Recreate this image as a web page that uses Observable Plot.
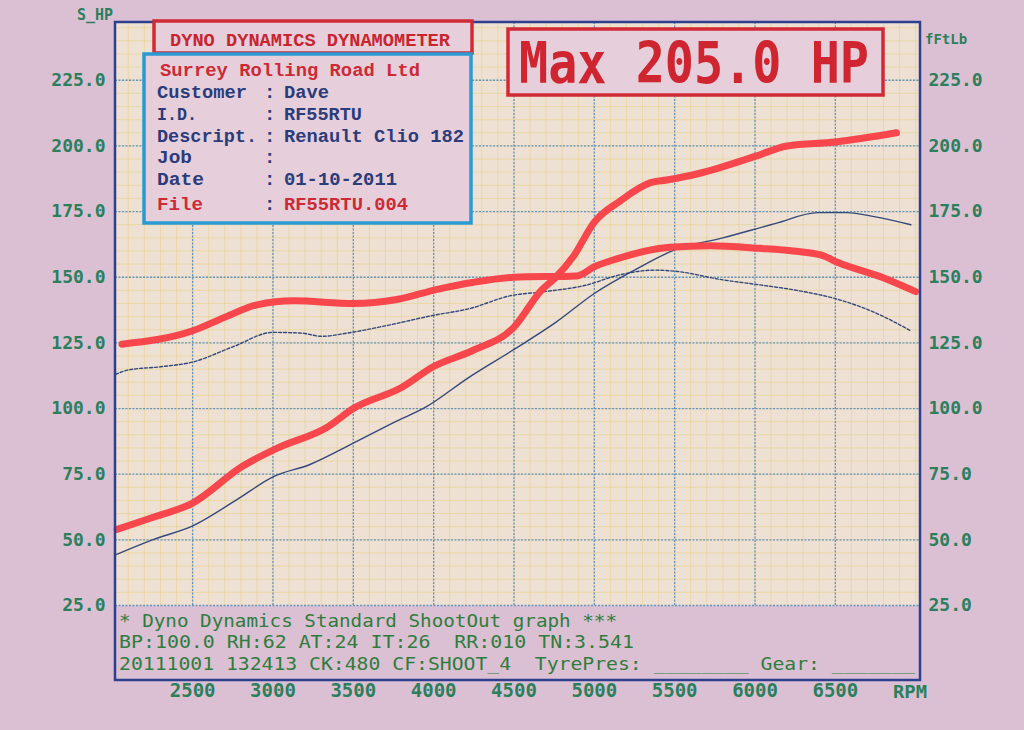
<!DOCTYPE html>
<html><head><meta charset="utf-8">
<script src="https://cdn.jsdelivr.net/npm/d3@7"></script>
<script src="https://cdn.jsdelivr.net/npm/@observablehq/plot@0.6"></script>
<style>
html,body{margin:0;padding:0;background:#dbc0d3;}
#chart{width:1024px;height:730px;overflow:hidden;}
</style></head><body><div id="chart"></div>
<script>
// ---- Data read from the dyno sheet ----
const rpmTicks = [2500, 3000, 3500, 4000, 4500, 5000, 5500, 6000, 6500];
const valueTicks = [25, 50, 75, 100, 125, 150, 175, 200, 225];

// Current run – power (S_HP), thick red
const powerRpm = [2030, 2250, 2500, 2810, 3030, 3340, 3500, 3800, 4000, 4240, 4500, 4670, 4760, 4870, 5000, 5160, 5350, 5450, 5650, 6000, 6200, 6500, 6880];
const powerHp  = [54, 58.5, 64, 78, 85, 93, 100, 108, 116, 122, 131, 145, 150, 158, 171, 179, 186, 187, 189.5, 196, 200, 201.5, 205];

// Current run – torque (fFtLb), thick red
const torqueRpm = [2060, 2500, 2710, 2900, 3130, 3500, 3770, 4030, 4240, 4500, 4890, 5000, 5140, 5470, 5720, 6030, 6240, 6410, 6520, 6790, 7000];
const torqueFt  = [124.5, 129.6, 135, 139.5, 141, 140, 141.5, 145.5, 148, 150, 150.5, 154, 157, 161.4, 162, 161, 160, 158.5, 155.5, 150, 144.5];

// Reference run – power, thin solid blue
const refPowerRpm = [2020, 2250, 2500, 2780, 3000, 3230, 3500, 3760, 3950, 4220, 4500, 4760, 5000, 5250, 5500, 5800, 6130, 6390, 6570, 6750, 6970];
const refPowerHp  = [44.3, 50, 55.3, 65.5, 74, 78.7, 86.8, 94.9, 100.5, 111.9, 122.5, 132.8, 143.8, 152.7, 160.4, 165, 170.5, 174.6, 174.6, 173, 170];

// Reference run – torque, thin dashed blue
const refTorqueRpm = [2020, 2100, 2300, 2500, 2750, 3000, 3180, 3300, 3460, 3700, 4000, 4220, 4480, 4690, 4950, 5150, 5370, 5500, 5800, 6040, 6260, 6520, 6740, 6970];
const refTorqueFt  = [113, 114.7, 115.9, 117.7, 123.5, 129, 128.7, 127.5, 128.7, 131.5, 135.5, 138, 143, 144.5, 147, 150.8, 152.7, 152.3, 149, 147, 145, 141.5, 136.7, 129.6];

const infoLabels = ["Customer", "I.D.", "Descript.", "Job", "Date", "File"];
const infoValues = ["Dave", "RF55RTU", "Renault Clio 182", "", "01-10-2011", "RF55RTU.004"];
const footerLines = [
  "* Dyno Dynamics Standard ShootOut graph ***",
  "BP:100.0 RH:62 AT:24 IT:26  RR:010 TN:3.541",
  "20111001 132413 CK:480 CF:SHOOT_4  TyrePres: ________ Gear: _______"
];

const toRows = (xs, ys) => xs.map((x, i) => ({rpm: x, v: ys[i]}));

const X0 = 2020, X1 = 7030, Y0 = 25, Y1 = 247;
const minorX = d3.range(2100, X1, 100);
const minorY = d3.range(30, Y1, 5);

const GREEN = "#2b7f5c";
const RED = "#f8474c";
const BLUE = "#34487a";

const plot = Plot.plot({
  width: 1024, height: 730,
  marginLeft: 115, marginRight: 104, marginTop: 22, marginBottom: 125,
  x: {domain: [X0, X1]},
  y: {domain: [Y0, Y1]},
  style: {background: "transparent", fontFamily: "DejaVu Sans Mono"},
  marks: [
    Plot.frame({fill: "#eee0d3", stroke: null}),
    Plot.gridX(minorX, {stroke: "#e5d27c", strokeOpacity: 0.5, strokeWidth: 1}),
    Plot.gridY(minorY, {stroke: "#e5d27c", strokeOpacity: 0.5, strokeWidth: 1}),
    Plot.gridX(rpmTicks, {stroke: "#5f93c4", strokeOpacity: 1, strokeWidth: 1.3, strokeDasharray: "2,1.5"}),
    Plot.gridY(valueTicks, {stroke: "#5f93c4", strokeOpacity: 1, strokeWidth: 1.3, strokeDasharray: "2,1.5"}),
    Plot.axisY(valueTicks, {anchor: "left", label: null, tickSize: 0, tickPadding: 10,
      tickFormat: d => d.toFixed(1), fontSize: 18, fontWeight: "bold", color: GREEN}),
    Plot.axisY(valueTicks, {anchor: "right", label: null, tickSize: 0, tickPadding: 8,
      tickFormat: d => d.toFixed(1), fontSize: 18, fontWeight: "bold", color: GREEN}),
    Plot.axisX(rpmTicks, {anchor: "bottom", label: null, tickSize: 0, tickPadding: 78,
      tickFormat: d => String(d), fontSize: 19, fontWeight: "bold", color: GREEN}),
    Plot.line(toRows(refTorqueRpm, refTorqueFt), {x: "rpm", y: "v", stroke: BLUE, strokeWidth: 1.4, strokeDasharray: "3,2", curve: "monotone-x"}),
    Plot.line(toRows(refPowerRpm, refPowerHp), {x: "rpm", y: "v", stroke: BLUE, strokeWidth: 1.4, curve: "monotone-x"}),
    Plot.line(toRows(torqueRpm, torqueFt), {x: "rpm", y: "v", stroke: RED, strokeWidth: 7, strokeLinecap: "round", strokeLinejoin: "round", curve: "monotone-x"}),
    Plot.line(toRows(powerRpm, powerHp), {x: "rpm", y: "v", stroke: RED, strokeWidth: 7, strokeLinecap: "round", strokeLinejoin: "round", curve: "monotone-x"})
  ]
});

document.getElementById("chart").appendChild(plot);

// ---- Sheet decorations (boxes and printed text) ----
const svg = d3.select(plot);
const g = svg.append("g");

function txt(x, y, s, o = {}) {
  const t = g.append("text").attr("x", x).attr("y", y).text(s)
    .attr("fill", o.fill || GREEN)
    .attr("font-family", o.family || "DejaVu Sans Mono")
    .attr("font-size", o.size || 16)
    .attr("font-weight", o.weight || "normal")
    .attr("text-anchor", o.anchor || "start")
    .style("white-space", "pre");
  if (o.len) t.attr("textLength", o.len).attr("lengthAdjust", "spacingAndGlyphs");
  return t;
}

// Outer frame (plot + footer)
g.append("rect").attr("x", 115).attr("y", 22).attr("width", 805).attr("height", 658)
  .attr("fill", "none").attr("stroke", "#2d3f8f").attr("stroke-width", 2.5);

// Axis titles
txt(113, 20, "S_HP", {anchor: "end", size: 15, weight: "bold"});
txt(925, 44, "fFtLb", {size: 14, weight: "bold"});
txt(893, 698, "RPM", {size: 17, weight: "bold", len: 34});

// DYNO DYNAMICS header box
g.append("rect").attr("x", 154).attr("y", 21).attr("width", 318).attr("height", 32)
  .attr("fill", "#e6cfdb").attr("stroke", "#d02a36").attr("stroke-width", 3.5);
txt(170, 46, "DYNO DYNAMICS DYNAMOMETER", {fill: "#c8252f", family: "Liberation Mono", weight: "bold", size: 18, len: 280});

// Info box
g.append("rect").attr("x", 144).attr("y", 54).attr("width", 327).attr("height", 169)
  .attr("fill", "#e6cfdb").attr("stroke", "#2a9bd2").attr("stroke-width", 3.5);
txt(160, 76, "Surrey Rolling Road Ltd", {fill: "#cc2b36", family: "Liberation Mono", weight: "bold", size: 19, len: 260});
const baseY = [98, 120, 142, 163, 185, 210];
const labLen = [90, 40, 100, 35, 47, 46];
const valLen = [45, 78, 180, 0, 113, 124];
infoLabels.forEach((l, i) => {
  const col = i === 5 ? "#cc2b36" : "#2b3c7a";
  txt(157, baseY[i], l, {fill: col, family: "Liberation Mono", weight: "bold", size: 19, len: labLen[i]});
  txt(264, baseY[i], ":", {fill: "#2b3c7a", family: "Liberation Mono", weight: "bold", size: 19});
  if (infoValues[i]) txt(284, baseY[i], infoValues[i], {fill: col, family: "Liberation Mono", weight: "bold", size: 19, len: valLen[i]});
});

// Max box
g.append("rect").attr("x", 508).attr("y", 29).attr("width", 375).attr("height", 66)
  .attr("fill", "#e6cfdb").attr("stroke", "#d02a36").attr("stroke-width", 3.5);
txt(0, 0, "Max " + d3.max(powerHp).toFixed(1) + " HP", {fill: "#cf2530", family: "DejaVu Sans Mono", weight: "bold", size: 48, len: 350})
  .attr("transform", "translate(519,83) scale(1,1.2)");

// Footer lines
const footY = [627, 648, 670];
const footLen = [498, 515, 796];
footerLines.forEach((s, i) => txt(119, footY[i], s, {fill: "#2e7d3c", size: 18, len: footLen[i]}));
</script>
</body></html>
